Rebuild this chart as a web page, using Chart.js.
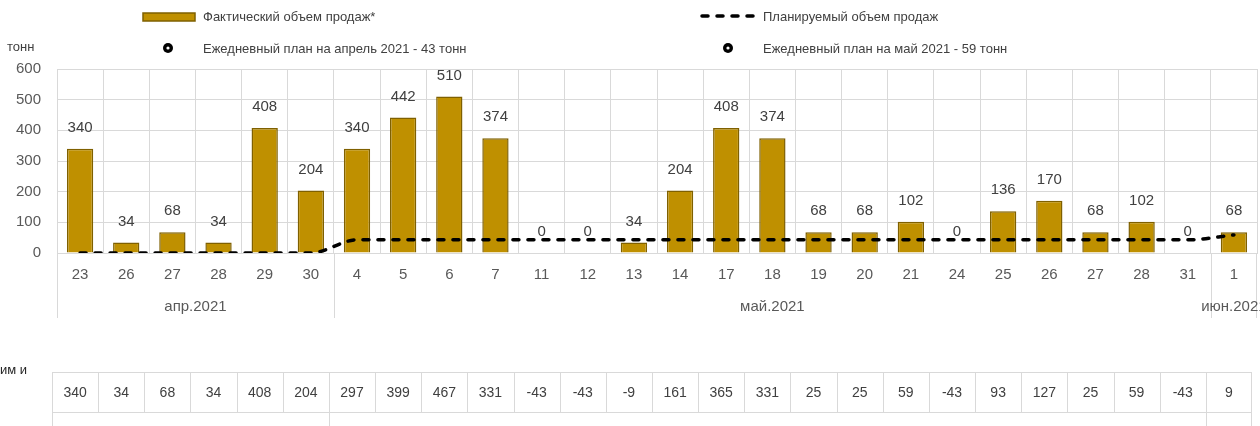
<!DOCTYPE html>
<html lang="ru">
<head>
<meta charset="utf-8">
<title>Объем продаж</title>
<script src="https://cdn.jsdelivr.net/npm/chart.js@4/dist/chart.umd.min.js"></script>
<style>
  html, body { margin:0; padding:0; background:#fff; overflow:hidden; }
  #wrap { position:relative; width:1260px; height:426px; }
</style>
</head>
<body>
<div id="wrap"><canvas id="sales"></canvas></div>
<script>
'use strict';

// ── Data ──────────────────────────────────────────────────────────────────────
var days        = ['23','26','27','28','29','30',
                   '4','5','6','7','11','12','13','14','17','18','19','20','21','24','25','26','27','28','31',
                   '1'];
var months      = ['апр.2021', 'май.2021', 'июн.2021'];
var monthDays   = [6, 19, 1];
var actual      = [340, 34, 68, 34, 408, 204,
                   340, 442, 510, 374, 0, 0, 34, 204, 408, 374, 68, 68, 102, 0, 136, 170, 68, 102, 0,
                   68];
var planned     = [0, 0, 0, 0, 0, 0,
                   43, 43, 43, 43, 43, 43, 43, 43, 43, 43, 43, 43, 43, 43, 43, 43, 43, 43, 43,
                   59];
var deviation   = [340, 34, 68, 34, 408, 204,
                   297, 399, 467, 331, -43, -43, -9, 161, 365, 331, 25, 25, 59, -43, 93, 127, 25, 59, -43,
                   9];
var yTicks      = [0, 100, 200, 300, 400, 500, 600];
var dailyNotes  = ['Ежедневный план на апрель 2021 - 43 тонн', 'Ежедневный план на май 2021 - 59 тонн'];

// ── Style ─────────────────────────────────────────────────────────────────────
var FONT   = '"Liberation Sans", Arial, sans-serif';
var GOLD   = '#bf9000', GOLD_EDGE = '#7f6000';
var GRID   = '#d9d9d9';
var TXT    = '#595959', TXT_DARK = '#404040';

Chart.defaults.font.family = FONT;
Chart.defaults.color = TXT;

function px(v) { return Math.round(v) + 0.5; }

function vline(ctx, x, y1, y2) { ctx.beginPath(); ctx.moveTo(px(x), y1); ctx.lineTo(px(x), y2); ctx.stroke(); }
function hline(ctx, x1, x2, y) { ctx.beginPath(); ctx.moveTo(x1, px(y)); ctx.lineTo(x2, px(y)); ctx.stroke(); }

// ── Legend, month row, deviation table ───────────────────────────────────────
var extras = {
  id: 'extras',
  afterDatasetsDraw: function(chart) {
    var ctx = chart.ctx, meta = chart.getDatasetMeta(0);
    ctx.save();
    ctx.font = '15px ' + FONT; ctx.fillStyle = TXT_DARK;
    ctx.textAlign = 'center'; ctx.textBaseline = 'middle';
    meta.data.forEach(function(bar, i) { ctx.fillText(String(actual[i]), bar.x, bar.y - 21); });
    ctx.restore();
  },
  afterDraw: function(chart) {
    var ctx = chart.ctx, xs = chart.scales.x, area = chart.chartArea;
    var cw = xs.width / days.length;
    ctx.save();

    // legend
    var ds = chart.data.datasets;
    ctx.font = '13px ' + FONT; ctx.fillStyle = TXT_DARK; ctx.textBaseline = 'middle'; ctx.textAlign = 'left';
    ctx.fillStyle = GOLD; ctx.fillRect(143, 13, 52, 8);
    ctx.strokeStyle = GOLD_EDGE; ctx.lineWidth = 1.5; ctx.strokeRect(143, 13, 52, 8);
    ctx.fillStyle = TXT_DARK; ctx.fillText(ds[0].label, 203, 17);

    ctx.strokeStyle = '#000'; ctx.lineWidth = 3.5; ctx.lineCap = 'round'; ctx.setLineDash([6, 9]);
    ctx.beginPath(); ctx.moveTo(702, 16); ctx.lineTo(756, 16); ctx.stroke();
    ctx.setLineDash([]); ctx.lineCap = 'butt';
    ctx.fillText(ds[1].label, 763, 17);

    [[168, 203], [728, 763]].forEach(function(p, i) {
      ctx.fillStyle = '#000'; ctx.beginPath(); ctx.arc(p[0], 48, 5, 0, Math.PI * 2); ctx.fill();
      ctx.fillStyle = '#fff'; ctx.beginPath(); ctx.arc(p[0], 48, 1.6, 0, Math.PI * 2); ctx.fill();
      ctx.fillStyle = TXT_DARK; ctx.fillText(dailyNotes[i], p[1], 49);
    });

    // unit
    ctx.fillStyle = TXT_DARK; ctx.fillText('тонн', 7, 47);

    // month row under the day labels
    ctx.strokeStyle = GRID; ctx.lineWidth = 1;
    var start = 0, bounds = [xs.left];
    monthDays.forEach(function(n) { start += n; bounds.push(xs.left + start * cw); });
    bounds.forEach(function(x) { vline(ctx, Math.min(x, xs.right - 1), area.bottom, 318); });
    ctx.font = '15px ' + FONT; ctx.fillStyle = TXT; ctx.textAlign = 'center';
    months.forEach(function(m, i) { ctx.fillText(m, (bounds[i] + bounds[i + 1]) / 2, 307); });

    // deviation table
    var shift = -5, top = 372, mid = 412, bottom = chart.height;
    var tl = xs.left + shift, tr = xs.right + shift - 1;
    hline(ctx, tl, tr + 1, top); hline(ctx, tl, tr + 1, mid);
    for (var i = 0; i <= days.length; i++) vline(ctx, Math.min(tl + i * cw, tr), top, mid);
    bounds.forEach(function(x) { vline(ctx, Math.min(x + shift, tr), mid, bottom); });
    ctx.font = '14px ' + FONT; ctx.fillStyle = TXT_DARK;
    deviation.forEach(function(v, i) { ctx.fillText(String(v), tl + (i + 0.5) * cw, 393); });

    ctx.font = '13px ' + FONT; ctx.fillStyle = '#262626'; ctx.textAlign = 'right';
    ctx.fillText('Отклонение по фактическим и', 27, 370);
    ctx.restore();
  }
};

// ── Chart ─────────────────────────────────────────────────────────────────────
new Chart(document.getElementById('sales'), {
  data: {
    labels: days,
    datasets: [
      { type:'bar', label:'Фактический объем продаж*', data:actual, order:2,
        backgroundColor:GOLD, borderColor:GOLD_EDGE, borderWidth:1.5, borderSkipped:'start',
        barPercentage:0.57, categoryPercentage:1 },
      { type:'line', label:'Планируемый объем продаж', data:planned, order:1,
        borderColor:'#000', borderWidth:3.5, borderDash:[6, 9], borderCapStyle:'round',
        cubicInterpolationMode:'monotone', pointRadius:0, fill:false }
    ]
  },
  options: {
    responsive:true, maintainAspectRatio:false, animation:false,
    layout: { padding: { top:69, right:3, left:0, bottom:0 } },
    plugins: { legend:{ display:false }, tooltip:{ enabled:false } },
    scales: {
      x: {
        grid: { offset:true, color:GRID, drawTicks:false },
        border: { color:GRID },
        ticks: { font:{ size:15 }, color:TXT, padding:13, maxRotation:0, autoSkip:false },
        afterFit: function(s) { s.height = 426 - 253; }
      },
      y: {
        min:0, max:600,
        afterBuildTicks: function(s) { s.ticks = yTicks.map(function(v) { return { value:v }; }); },
        grid: { color:GRID, drawTicks:false },
        border: { display:false },
        ticks: { font:{ size:15 }, color:TXT, padding:16 },
        afterFit: function(s) { s.width = 57; }
      }
    }
  },
  plugins: [extras]
});
</script>
</body>
</html>
